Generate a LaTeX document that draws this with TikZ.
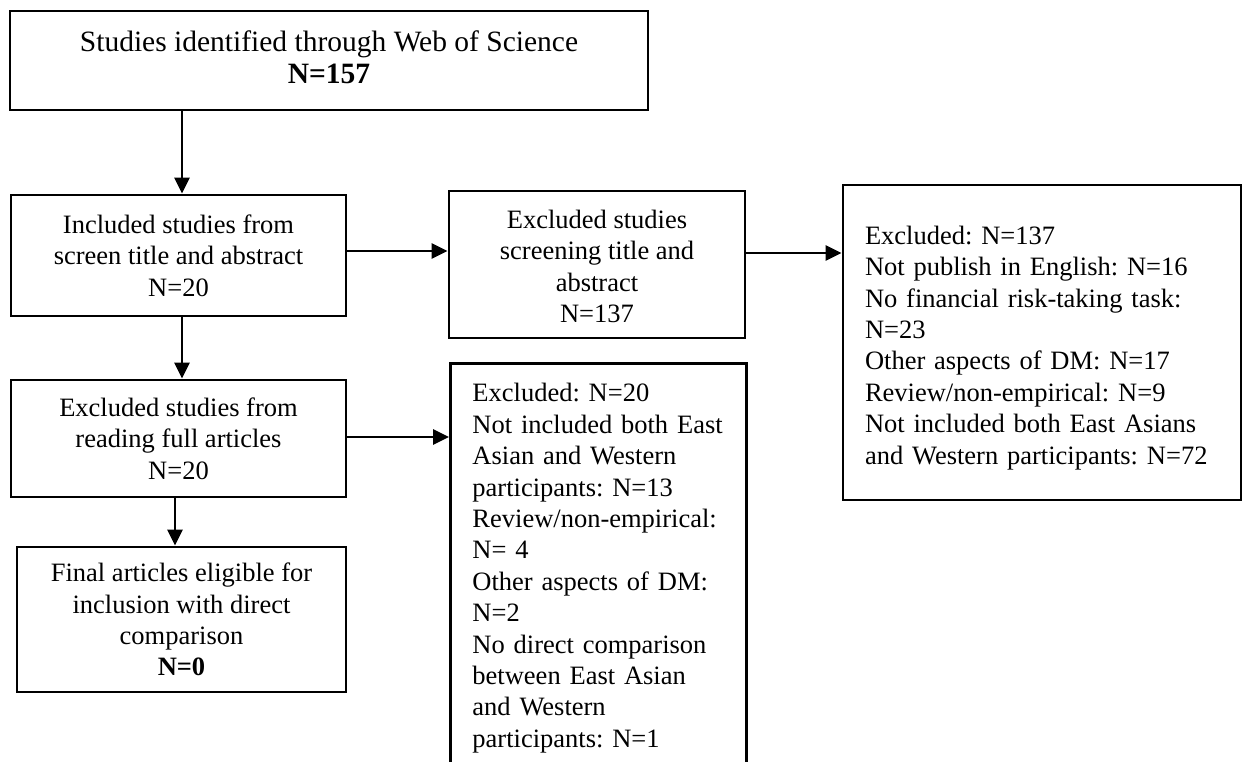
\documentclass[tikz,border=0pt]{standalone}
\usepackage{fontspec}
\setmainfont{Liberation Serif}
\usetikzlibrary{arrows.meta}
\frenchspacing
\begin{document}
\begin{tikzpicture}[x=1pt,y=-1pt,
  box/.style={draw,line width=2.9pt,rectangle,inner sep=0pt,
    font=\fontsize{26.5}{31.4}\selectfont},
  cbox/.style={box,align=center},
  lbox/.style={box,align=left,inner xsep=22pt,inner ysep=20pt},
  arr/.style={line width=2.9pt,-{Triangle[length=16pt,width=15pt]}}]
\useasboundingbox (0,0) rectangle (1243,761);

% main column of the flow
\node[cbox,minimum width=638pt,minimum height=99pt,
  font=\fontsize{29.5}{32}\selectfont] (top) at (329,60.5)
  {Studies identified through Web of Science\\\textbf{N=157}\rule[-7pt]{0pt}{0pt}};
\node[cbox,minimum width=335pt,minimum height=121pt] (incl) at (178.5,255.5)
  {Included studies from\\screen title and abstract\\N=20};
\node[cbox,minimum width=335pt,minimum height=117pt] (full) at (178.5,438.5)
  {Excluded studies from\\reading full articles\\N=20};
\node[cbox,minimum width=329pt,minimum height=145pt] (final) at (181.5,619.5)
  {Final articles eligible for\\inclusion with direct\\comparison\\\textbf{N=0}};

% exclusions after title and abstract screening
\node[cbox,minimum width=296pt,minimum height=147pt] (excl) at (597,264.5)
  {\rule{0pt}{22pt}Excluded studies\\screening title and\\abstract\\N=137};
\node[lbox,inner ysep=0pt,text width=354pt,minimum height=315pt] (reasonsA) at (1042,342.5)
  {\rule{0pt}{29pt}Excluded: N=137\\Not publish in English: N=16\\No financial risk-taking task:\\N=23\\Other aspects of DM: N=17\\Review/non-empirical: N=9\\Not included both East Asians\\and Western participants: N=72};

% exclusions after full-text reading (box runs past the lower edge)
\node[lbox,text width=252pt,anchor=north west] (reasonsB) at (449,362)
  {Excluded: N=20\\Not included both East\\Asian and Western\\participants: N=13\\Review/non-empirical:\\N= 4\\Other aspects of DM:\\N=2\\No direct comparison\\between East Asian\\and Western\\participants: N=1};

% connector guide positions
\coordinate (c1) at (182,0);
\coordinate (c2) at (0,251);
\coordinate (c3) at (0,253);
\coordinate (c4) at (0,437);
\coordinate (c5) at (175,0);

\draw[arr] (c1 |- top.south) -- (c1 |- incl.north);
\draw[arr] (incl.east |- c2) -- (excl.west |- c2);
\draw[arr] (excl.east |- c3) -- (reasonsA.west |- c3);
\draw[arr] (c1 |- incl.south) -- (c1 |- full.north);
\draw[arr] (full.east |- c4) -- (reasonsB.west |- c4);
\draw[arr] (c5 |- full.south) -- (c5 |- final.north);
\end{tikzpicture}
\end{document}
